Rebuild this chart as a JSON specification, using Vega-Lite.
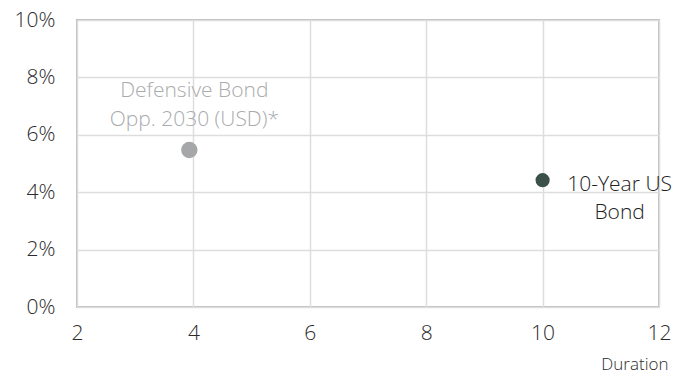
{
  "$schema": "https://vega.github.io/schema/vega-lite/v6.json",
  "width": 582,
  "height": 287,
  "autosize": {"type": "none"},
  "padding": {"left": 77, "top": 20, "right": 29, "bottom": 69},
  "background": "white",
  "config": {
    "font": "Open Sans",
    "view": {"stroke": "#bdbdbd", "strokeWidth": 2},
    "axis": {"gridColor": "#dddddd", "gridWidth": 1.5, "domain": false, "ticks": false, "labelFont": "Open Sans", "labelFontSize": 21, "labelColor": "#2a2a2a", "labelFontWeight": 300}
  },
  "data": {"values": [
    {"name": "Defensive Bond\nOpp. 2030 (USD)*", "duration": 3.93, "yield": 0.0547, "series": "fund"},
    {"name": "10-Year US\nBond", "duration": 10.0, "yield": 0.0442, "series": "ust"}
  ]},
  "layer": [
    {
      "mark": {"type": "circle", "opacity": 1},
      "encoding": {
        "x": {"field": "duration", "type": "quantitative", "scale": {"domain": [2, 12], "nice": false},
              "axis": {"values": [2, 4, 6, 8, 10, 12], "format": "d", "labelFlush": false, "labelOverlap": false, "labelPadding": 15, "title": "Duration", "titleFont": "Open Sans", "titleFontSize": 17, "titleFontWeight": 300, "titleColor": "#2a2a2a", "titleAlign": "right", "titleAnchor": "end", "titleX": 591, "titleY": 57, "titleBaseline": "middle"}},
        "y": {"field": "yield", "type": "quantitative", "scale": {"domain": [0, 0.1], "nice": false},
              "axis": {"values": [0, 0.02, 0.04, 0.06, 0.08, 0.1], "format": ".0%", "labelFlush": false, "labelOverlap": false, "labelPadding": 22, "title": null}},
        "color": {"field": "series", "type": "nominal", "scale": {"domain": ["fund", "ust"], "range": ["#a5a7a9", "#3b5048"]}, "legend": null},
        "size": {"field": "series", "type": "nominal", "scale": {"domain": ["fund", "ust"], "range": [270, 200]}, "legend": null}
      }
    },
    {
      "transform": [{"filter": "datum.series == 'fund'"}],
      "mark": {"type": "text", "lineBreak": "\n", "align": "center", "baseline": "alphabetic", "dx": 5, "dy": -53, "lineHeight": 29, "fontSize": 21, "fontWeight": 300, "color": "#a9abad", "font": "Open Sans"},
      "encoding": {
        "x": {"field": "duration", "type": "quantitative"},
        "y": {"field": "yield", "type": "quantitative"},
        "text": {"field": "name"}
      }
    },
    {
      "transform": [{"filter": "datum.series == 'ust'"}],
      "mark": {"type": "text", "lineBreak": "\n", "align": "center", "baseline": "alphabetic", "dx": 77, "dy": 11, "lineHeight": 28, "fontSize": 21, "fontWeight": 300, "color": "#222222", "font": "Open Sans"},
      "encoding": {
        "x": {"field": "duration", "type": "quantitative"},
        "y": {"field": "yield", "type": "quantitative"},
        "text": {"field": "name"}
      }
    }
  ]
}
